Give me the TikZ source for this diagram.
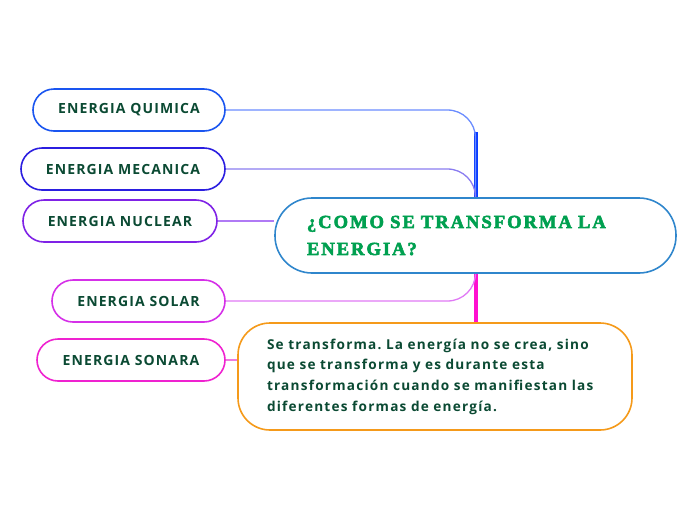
\documentclass[tikz,border=0pt]{standalone}
\usepackage{fontspec}
\usetikzlibrary{backgrounds}
\setmainfont{Open Sans}
\newfontfamily\slabfont{Liberation Serif}[LetterSpace=11,BoldFeatures={FakeBold=3}]
\newfontfamily\leaffont{Open Sans}[LetterSpace=8]
\newfontfamily\descfont{Open Sans}[LetterSpace=9]
\definecolor{txtgreen}{HTML}{0B4A33}
\definecolor{titlegreen}{HTML}{00A050}
\definecolor{cq}{HTML}{1A55F0}
\definecolor{cql}{HTML}{6A8CFF}
\definecolor{cm}{HTML}{2B1EE0}
\definecolor{cml}{HTML}{8A7CF0}
\definecolor{cn}{HTML}{7F22E6}
\definecolor{cnl}{HTML}{B07AF5}
\definecolor{cs}{HTML}{D530E8}
\definecolor{csl}{HTML}{E07AF5}
\definecolor{cso}{HTML}{EF22D0}
\definecolor{csol}{HTML}{F07AE0}
\definecolor{spineblue}{HTML}{0A3CFF}
\definecolor{spinemag}{HTML}{FF10D0}
\definecolor{ccentral}{HTML}{2F86CC}
\definecolor{cdesc}{HTML}{F59A1A}
\begin{document}
\begin{tikzpicture}[x=1pt,y=-1pt,
  leaf/.style={draw, line width=1.6pt, fill=white, rounded corners=21pt, minimum height=42pt,
    inner sep=0pt, font=\leaffont\bfseries\fontsize{14}{16}\selectfont, text=txtgreen},
  branch/.style={line width=1.3pt, rounded corners=28pt},
  spine/.style={line width=4pt}]
\useasboundingbox (0,0) rectangle (696,520);

% central
\node[draw=ccentral, line width=1.6pt, fill=white, rounded corners=37pt,
  minimum width=401pt, minimum height=75pt, inner sep=0pt,
  text width=337pt, align=left, text=titlegreen,
  font=\slabfont\bfseries\fontsize{18.5}{27}\selectfont] (central) at (475.5,235.5)
  {¿COMO SE TRANSFORMA LA\\ENERGIA?};

% description
\node[draw=cdesc, line width=1.6pt, fill=white, rounded corners=32pt,
  minimum width=394pt, minimum height=107pt, inner sep=0pt,
  text width=336pt, align=left, text=txtgreen,
  font=\descfont\bfseries\frenchspacing\fontsize{13.6}{20.7}\selectfont] (desc) at (435,376.5)
  {Se transforma. La energía no se crea, sino\\que se transforma y es durante esta\\transformación cuando se manifiestan las\\diferentes formas de energía.};

% leaves
\node[leaf, draw=cq, minimum width=192pt] (q) at (129,110) {ENERGIA QUIMICA};
\node[leaf, draw=cm, minimum width=204pt] (m) at (123,169) {ENERGIA MECANICA};
\node[leaf, draw=cn, minimum width=194pt] (n) at (120,221) {ENERGIA NUCLEAR};
\node[leaf, draw=cs, minimum width=173pt] (s) at (138.5,301) {ENERGIA SOLAR};
\node[leaf, draw=cso, minimum width=188pt] (so) at (131,360) {ENERGIA SONARA};

\begin{scope}[on background layer]
\draw[spine, spineblue] (central.north) -- (central.north |- q.south);
\draw[spine, spinemag] (central.south) -- (central.south |- desc.north);
\draw[branch, cql] (q.east) -- (q.east -| central.north) -- (central.north);
\draw[branch, cml] (m.east) -- (m.east -| central.north) -- (central.north);
\draw[branch, cnl] (n.east) -- (central.west |- n.east);
\draw[branch, csl] (s.east) -- (s.east -| central.south) -- (central.south);
\draw[branch, csol] (so.east) -- (desc.west |- so.east);
\end{scope}
\end{tikzpicture}
\end{document}
